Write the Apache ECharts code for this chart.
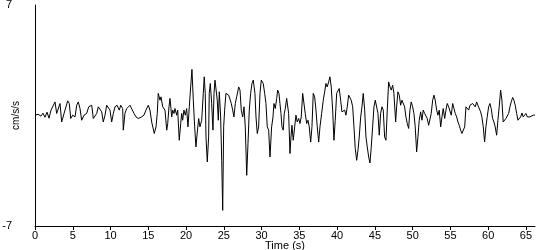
<!DOCTYPE html>
<html><head><meta charset="utf-8">
<script src="https://cdn.jsdelivr.net/npm/echarts@6/dist/echarts.min.js"></script>
<style>html,body{margin:0;padding:0;background:#fff}#c{width:550px;height:250px}</style>
</head><body><div id="c"></div>
<script>
const xTicks = [0,5,10,15,20,25,30,35,40,45,50,55,60,65];
const yTicks = [-7, 7];
const times = [0,0.40,0.79,1.06,1.32,1.59,1.85,2.12,2.65,2.87,3.31,3.53,3.97,4.33,4.54,4.73,4.99,5.30,5.52,5.73,5.96,6.18,6.49,6.84,7.11,7.28,7.51,7.72,7.94,8.17,8.38,8.60,8.83,9.04,9.27,9.49,9.70,9.93,10.15,10.37,10.59,10.86,11.16,11.35,11.61,11.69,11.91,12.14,12.35,12.58,12.80,13.11,13.37,13.67,13.90,14.12,14.43,14.69,15.00,15.22,15.45,15.79,16.02,16.19,16.32,16.55,16.68,16.91,17.08,17.21,17.44,17.57,17.74,17.87,18.00,18.10,18.23,18.40,18.53,18.76,18.89,19.10,19.29,19.42,19.55,19.72,19.90,20.08,20.25,20.43,20.61,20.78,20.96,21.14,21.31,21.49,21.67,21.84,22.07,22.28,22.41,22.54,22.64,22.81,22.99,23.07,23.21,23.39,23.56,23.70,23.83,23.96,24.13,24.27,24.40,24.58,24.72,24.85,24.98,25.11,25.28,25.46,25.64,25.81,25.99,26.17,26.34,26.52,26.70,26.97,27.14,27.31,27.50,27.67,27.84,28.03,28.20,28.37,28.55,28.73,28.90,29.12,29.26,29.43,29.61,29.79,29.96,30.22,30.41,30.58,30.75,30.94,31.11,31.33,31.51,31.64,31.81,32.00,32.13,32.30,32.43,32.57,32.70,32.87,33.00,33.14,33.32,33.45,33.58,33.76,33.89,34.02,34.19,34.38,34.55,34.72,34.91,35.08,35.25,35.44,35.61,35.78,35.97,36.14,36.31,36.50,36.67,36.84,37.03,37.20,37.37,37.56,37.73,37.95,38.17,38.35,38.52,38.69,38.88,39.05,39.22,39.41,39.58,39.75,39.94,40.11,40.28,40.47,40.64,40.81,41.00,41.17,41.34,41.53,41.70,41.87,42.06,42.23,42.40,42.59,42.76,42.93,43.12,43.29,43.46,43.65,43.82,43.99,44.18,44.35,44.52,44.70,44.88,45.05,45.23,45.41,45.58,45.76,45.94,46.11,46.29,46.47,46.64,46.82,47.00,47.17,47.35,47.52,47.75,47.88,48.05,48.23,48.41,48.58,48.76,48.94,49.11,49.29,49.47,49.64,49.81,50.00,50.17,50.34,50.53,50.70,50.87,51.06,51.23,51.40,51.59,51.76,51.93,52.12,52.29,52.46,52.65,52.82,52.99,53.18,53.35,53.52,53.71,53.88,54.05,54.24,54.41,54.58,54.77,54.94,55.11,55.30,55.47,55.64,55.83,56.00,56.17,56.36,56.53,56.70,56.89,57.06,57.23,57.42,57.59,57.76,57.94,58.12,58.29,58.47,58.64,58.82,59.00,59.17,59.35,59.53,59.70,59.87,60.06,60.23,60.40,60.59,60.76,60.93,61.12,61.29,61.46,61.65,61.82,61.99,62.18,62.35,62.52,62.71,62.88,63.05,63.24,63.41,63.58,63.77,63.94,64.11,64.30,64.47,64.64,64.83,65.00,65.17,65.36,65.53,65.75,65.96,66.19];
const accel = [0.02,0.08,-0.04,0.15,-0.11,0.21,-0.17,0.34,0.86,0.13,0.76,-0.41,0.34,0.93,0.76,-0.19,0.02,-0.09,0.65,0.86,0.44,-0.30,0.02,0.13,0.55,0.44,0.65,-0.19,-0.30,0.13,0.55,0.59,0.23,-0.41,0.02,0.65,0.76,0.34,-0.41,0.13,0.55,0.65,0.34,0.65,0.44,-0.93,0.13,0.44,0.38,0.65,0.55,0.13,-0.09,-0.19,-0.30,-0.09,0.02,0.34,0.65,0.34,-0.41,-1.14,-0.72,0.13,1.40,0.97,1.18,0.55,0.65,0.34,-0.93,-0.51,0.55,1.08,0.44,-0.09,0.34,0.13,0.44,0.02,0.34,-1.57,-0.51,0.13,-0.30,0.34,0.02,0.44,-0.72,0.55,1.81,2.92,0.97,-0.72,-1.99,-1.04,-0.19,-0.72,-0.30,1.40,2.45,1.40,-1.36,-2.94,-1.36,1.40,2.03,0.76,-0.93,1.40,2.24,2.13,0.97,-0.30,1.50,-0.09,-2.84,-6.01,-0.72,0.34,1.40,1.50,1.29,1.40,0.76,0.34,-0.09,0.76,1.18,1.81,1.61,0.34,-0.09,0.55,-0.72,-3.79,-1.78,0.34,1.40,2.03,2.24,1.40,-0.09,-1.14,-0.72,1.40,2.24,2.03,1.40,0.76,-0.72,-0.93,-2.63,-0.72,-0.09,0.76,0.44,1.08,1.61,1.40,0.76,0.13,-0.72,-0.93,0.13,0.44,1.08,1.18,0.13,-2.41,-1.36,-0.62,-1.57,-0.72,0.02,-0.41,-0.19,-0.51,-0.09,1.40,1.29,0.13,-0.51,-0.30,-0.72,-1.68,-0.72,1.40,1.18,0.34,-0.72,-1.68,-0.72,0.13,0.97,1.50,2.03,1.81,2.13,2.45,1.81,0.34,-1.57,-0.30,1.40,1.50,1.71,0.97,0.23,0.13,0.34,0.02,0.55,1.29,1.40,0.97,0.55,-0.72,-2.09,-2.84,-2.20,-1.36,-0.09,0.55,1.40,0.34,-1.36,-1.99,-2.63,-3.01,-1.99,-0.72,0.55,0.97,0.86,0.13,-1.25,0.13,0.55,0.34,-1.36,-1.57,0.34,2.13,1.81,1.61,1.92,1.40,-0.41,0.55,1.50,1.29,0.65,0.97,0.86,0.55,-0.09,-0.51,-0.82,0.34,0.86,0.55,0.13,-0.72,-2.31,-1.36,-0.30,0.23,-0.30,0.34,0.13,0.23,-0.19,-0.62,-0.62,0.13,0.97,1.29,0.97,0.34,0.02,0.34,-0.72,-0.09,0.44,-0.19,0.34,0.76,0.55,0.65,0.02,0.76,0.44,0.13,-0.09,-0.41,-0.62,-0.93,-1.14,-1.25,-0.72,0.55,0.65,0.34,0.65,0.55,0.76,0.65,0.55,0.86,0.65,0.76,0.23,-0.09,-0.72,-1.68,-0.72,-0.09,0.55,0.76,0.44,-0.19,-0.41,-0.72,-1.25,-0.30,0.55,1.61,0.97,-0.41,-0.30,-0.19,-0.09,0.13,0.55,0.86,1.14,0.97,0.65,0.13,-0.30,-0.30,-0.09,0.16,-0.09,0.02,0.13,-0.09,0.02,-0.09,-0.04,0.02,0.02];

const font = 'Liberation Sans, Arial, sans-serif';
const chart = echarts.init(document.getElementById('c'), null, {renderer: 'canvas'});
chart.setOption({
  animation: false,
  backgroundColor: '#fff',
  grid: {left: 35, right: 15, top: 5, bottom: 24, containLabel: false, outerBoundsMode: 'none'},
  xAxis: {
    type: 'value', min: 0, max: 66.2,
    name: 'Time (s)', nameLocation: 'middle', nameGap: 14, nameMoveOverlap: false,
    nameTextStyle: {color: '#000', fontFamily: font, fontSize: 11},
    axisLine: {show: true, onZero: false, lineStyle: {color: '#000', width: 1}},
    axisTick: {show: true, length: 4, lineStyle: {color: '#000'}, customValues: xTicks},
    axisLabel: {color: '#000', fontFamily: font, fontSize: 11, margin: 4, customValues: xTicks},
    splitLine: {show: false}
  },
  yAxis: {
    type: 'value', min: -7, max: 7,
    name: 'cm/s/s', nameLocation: 'middle', nameGap: 14, nameRotate: 90, nameMoveOverlap: false,
    nameTextStyle: {color: '#000', fontFamily: font, fontSize: 10},
    axisLine: {show: true, onZero: false, lineStyle: {color: '#000', width: 1}},
    axisTick: {show: false},
    axisLabel: {color: '#000', fontFamily: font, fontSize: 11, margin: 23, customValues: yTicks},
    splitLine: {show: false}
  },
  series: [{
    type: 'line',
    data: times.map((t, i) => [t, accel[i]]),
    showSymbol: false,
    lineStyle: {color: '#000', width: 1},
    clip: false
  }]
});
</script></body></html>
